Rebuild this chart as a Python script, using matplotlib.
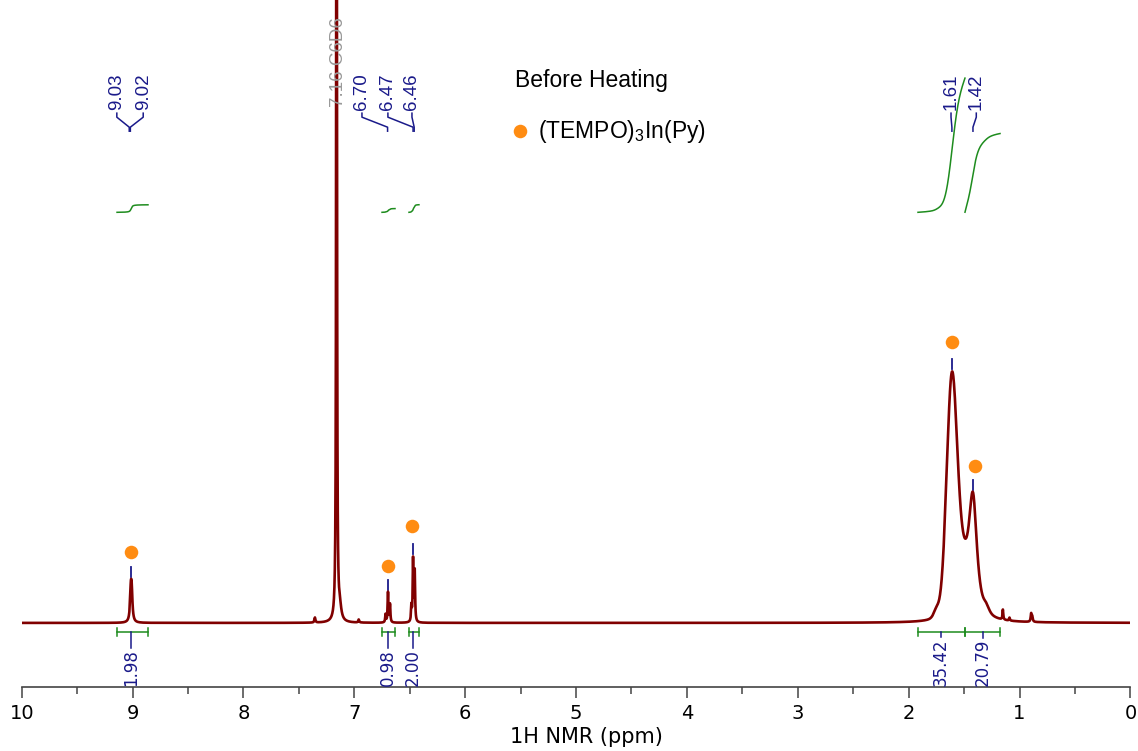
import numpy as np
import matplotlib
matplotlib.use("Agg")
import matplotlib.pyplot as plt

# peak table (ppm, height in px above baseline, half width, lorentz fraction)
peak_ppm = [9.016, 9.008, 7.355, 7.160, 7.130, 6.960, 6.718, 6.696, 6.678,
            6.485, 6.470, 6.455, 1.750, 1.610, 1.510, 1.420, 1.300, 1.150,
            1.090, 0.895, 0.885]
peak_height = [27.5, 27.5, 5, 1500, 12, 3, 8, 30, 18,
               15, 62, 50, 8, 239, 40, 120, 6, 10,
               3, 8, 5]
peak_hwhm = [0.008, 0.008, 0.005, 0.003, 0.015, 0.005, 0.004, 0.004, 0.004,
             0.004, 0.004, 0.004, 0.03, 0.056, 0.06, 0.045, 0.03, 0.004,
             0.004, 0.005, 0.005]
peak_lorentz = [1, 1, 1, 1, 1, 1, 1, 1, 1,
                1, 1, 1, 0.5, 0.1, 0.0, 0.9, 0.5, 1,
                1, 1, 1]

# peak picking labels (top)
pick_labels = ["9.03", "9.02", "6.70", "6.47", "6.46", "1.61", "1.42"]
pick_label_ppm = [9.142, 8.904, 6.931, 6.697, 6.480, 1.618, 1.390]
solvent_label = "7.16 C6D6"
solvent_ppm = 7.16

# integrals
int_start = [9.140, 6.750, 6.507, 1.916, 1.492]
int_end = [8.861, 6.633, 6.417, 1.492, 1.176]
int_values = [1.98, 0.98, 2.00, 35.42, 20.79]
int_label_ppm = [9.014, 6.696, 6.470, 1.708, 1.330]

# assignment markers
mark_ppm = [9.010, 6.696, 6.479, 1.609, 1.399]
mark_y = [71, 57, 97, 280, 157]
mark_peak_ppm = [9.012, 6.696, 6.470, 1.610, 1.420]

navy = "#1a1a8a"
green = "#1e8c1e"
orange = "#ff8c12"
sans = "Liberation Sans"

plt.rcParams["mathtext.fontset"] = "custom"
plt.rcParams["mathtext.rm"] = sans
plt.rcParams["mathtext.it"] = sans

ppm = np.linspace(0, 10, 40001)
spec = np.zeros_like(ppm)
for p, h, w, eta in zip(peak_ppm, peak_height, peak_hwhm, peak_lorentz):
    d = (ppm - p) / w
    spec += h * (eta / (1 + d ** 2) + (1 - eta) * np.exp(-np.log(2) * d ** 2))

fig = plt.figure(figsize=(11.38, 7.51), dpi=100)
ax = fig.add_axes([21.7 / 1138, 64 / 751, 1108.7 / 1138, 687 / 751])
ax.set_xlim(10, 0)
ax.set_ylim(-64, 622)

ax.plot(ppm, spec, color="#800000", lw=1.9, zorder=3)

# integral curves and bars
px_per_unit = 134 / 35.42
for a, b, v in zip(int_start, int_end, int_values):
    m = (ppm <= a) & (ppm >= b)
    xs = ppm[m][::-1]
    ys = spec[m][::-1]
    c = np.cumsum(ys)
    c = c / c[-1] * v * px_per_unit
    ax.plot(xs, 410 + c, color=green, lw=1.1)
    ax.plot([a, b], [-9, -9], color=green, lw=1.1)
    for e in (a, b):
        ax.plot([e, e], [-13, -5], color=green, lw=1.1)

int_texts = []
for xl, v in zip(int_label_ppm, int_values):
    t = ax.text(xl, -63, f"{v:.2f}", rotation=90, ha="center", va="bottom",
                color=navy, fontsize=12, family="DejaVu Sans")
    int_texts.append(t)

# peak pick labels and leaders
for lab, xl in zip(pick_labels, pick_label_ppm):
    xp = float(lab)
    ax.text(xl, 512, lab, rotation=90, ha="center", va="bottom",
            color=navy, fontsize=13.5, family=sans)
    ax.plot([xl, xl, xp, xp], [509, 505, 495, 491], color=navy, lw=1.1)

ax.text(solvent_ppm - 0.02, 515, solvent_label, rotation=90, ha="center",
        va="bottom", color="#999999", fontsize=13.5, family=sans)
ax.plot([solvent_ppm, solvent_ppm], [492, 515], color="#999999", lw=1.1)

# peak ticks and markers
for xp in mark_peak_ppm:
    m = np.abs(ppm - xp) < 0.006
    top = spec[m].max()
    ax.plot([xp, xp], [top + 2, top + 12], color=navy, lw=1.3)
ax.scatter(mark_ppm, mark_y, s=95, color=orange, zorder=4, lw=0)

# axis styling
for s in ["top", "left", "right"]:
    ax.spines[s].set_visible(False)
ax.spines["bottom"].set_color("#444444")
ax.spines["bottom"].set_linewidth(1.2)
ax.set_yticks([])
ax.set_xticks(np.arange(0, 11, 1))
ax.set_xticks(np.arange(0.5, 10, 1), minor=True)
ax.tick_params(axis="x", which="major", length=8, width=1.1, color="#444444",
               labelsize=14, pad=4)
ax.tick_params(axis="x", which="minor", length=5, width=1.1, color="#444444")
ax.set_xlabel("1H NMR (ppm)", fontsize=15)
ax.xaxis.set_label_coords(0.509, -0.058)

fig.text(515 / 1138, 1 - 87 / 751, "Before Heating", fontsize=16.5,
         family=sans, va="baseline")
fig.text(538 / 1138, 1 - 138 / 751, "(TEMPO)$_3$In(Py)", fontsize=16.5,
         family=sans, va="baseline")
ax.scatter([520 / 1138], [1 - 131 / 751], s=95, color=orange, lw=0,
           transform=fig.transFigure, clip_on=False)

# blue connectors from integral bars to their labels
fig.canvas.draw()
inv = ax.transData.inverted()
for xl, t in zip(int_label_ppm, int_texts):
    bb = t.get_window_extent()
    ytop = inv.transform((bb.x0, bb.y1))[1]
    ax.plot([xl, xl], [-9, ytop + 1], color=navy, lw=1.1)

fig.savefig("out.png", dpi=100)
